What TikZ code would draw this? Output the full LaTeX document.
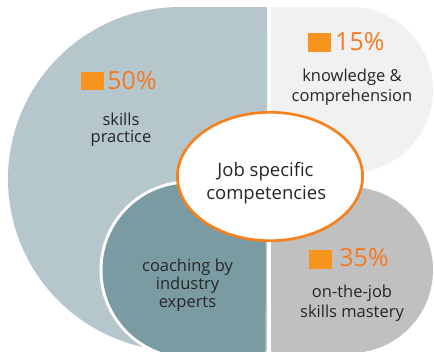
\documentclass[tikz,border=0pt]{standalone}
\usepackage{fontspec}
\setmainfont{Open Sans}
\definecolor{lblue}{HTML}{B5C7CD}
\definecolor{lgray}{HTML}{F1F1F1}
\definecolor{mgray}{HTML}{C0C0C0}
\definecolor{tealc}{HTML}{7A9BA2}
\definecolor{orsq}{HTML}{F7941D}
\definecolor{ortx}{HTML}{F47A20}
\definecolor{orline}{HTML}{F5821F}
\definecolor{txt}{HTML}{262626}
\tikzset{
  lbl/.style={inner sep=0pt, anchor=base, text=txt, font=\fontsize{16.5}{20}\selectfont},
  ctr/.style={inner sep=0pt, anchor=base, text=txt, font=\fontsize{18.5}{22}\selectfont},
  pct/.style={inner sep=0pt, anchor=base west, text=ortx, font=\fontsize{25}{29}\selectfont},
  sq/.style={fill=orsq}
}
\begin{document}
\begin{tikzpicture}[x=1pt,y=-1pt]
\useasboundingbox (0,0) rectangle (434,351);
% left big shape
\begin{scope}
  \clip (0,0) rectangle (267,351);
  \fill[lblue] (180,179) circle[radius=172];
  \fill[lblue] (180,7) rectangle (267,351);
\end{scope}
% right shapes
\begin{scope}
  \clip (271,0) rectangle (434,351);
  \fill[lgray] (350,90) circle[radius=83];
  \fill[lgray] (271,7) rectangle (350,173);
  \fill[mgray] (350,270) circle[radius=83];
  \fill[mgray] (271,187) rectangle (350,353);
\end{scope}
% teal half-stadium with white rim
\begin{scope}
  \clip (0,0) rectangle (265.5,351);
  \fill[white] (189,270) circle[radius=89.5];
  \fill[white] (189,180.5) rectangle (270,360);
  \fill[tealc] (189,270) circle[radius=86.5];
  \fill[tealc] (189,183.5) rectangle (270,360);
\end{scope}
% central ellipse
\draw[orline, line width=2.7pt, fill=white] (270,176.5) ellipse[x radius=92.6, y radius=64.2];
% squares
\fill[sq] (81,72.3) rectangle (103.7,90.3);
\fill[sq] (308,32.7) rectangle (330.7,51.7);
\fill[sq] (309,250.3) rectangle (331.7,268.7);
% percentages
\node[pct] (p50) at (107.2,89.8) {50\%};
\node[pct] (p15) at (335,50.8) {15\%};
\node[pct] (p35) at (339.2,266.3) {35\%};
% labels
\node[lbl] (sk1) at (121,125) {skills};
\node[lbl] (sk2) at (121,142.7) {practice};
\node[lbl] (kn1) at (352,81.5) {knowledge \&};
\node[lbl] (kn2) at (352,101.7) {comprehension};
\node[lbl] (co1) at (187.5,271.7) {coaching by};
\node[lbl] (co2) at (187.5,289.7) {industry};
\node[lbl] (co3) at (187.5,307.7) {experts};
\node[lbl] (oj1) at (352,297) {on-the-job};
\node[lbl] (oj2) at (352,317.7) {skills mastery};
\node[ctr] (jb1) at (265.5,176) {Job specific};
\node[ctr] (jb2) at (266.2,199) {competencies};
\end{tikzpicture}
\end{document}
